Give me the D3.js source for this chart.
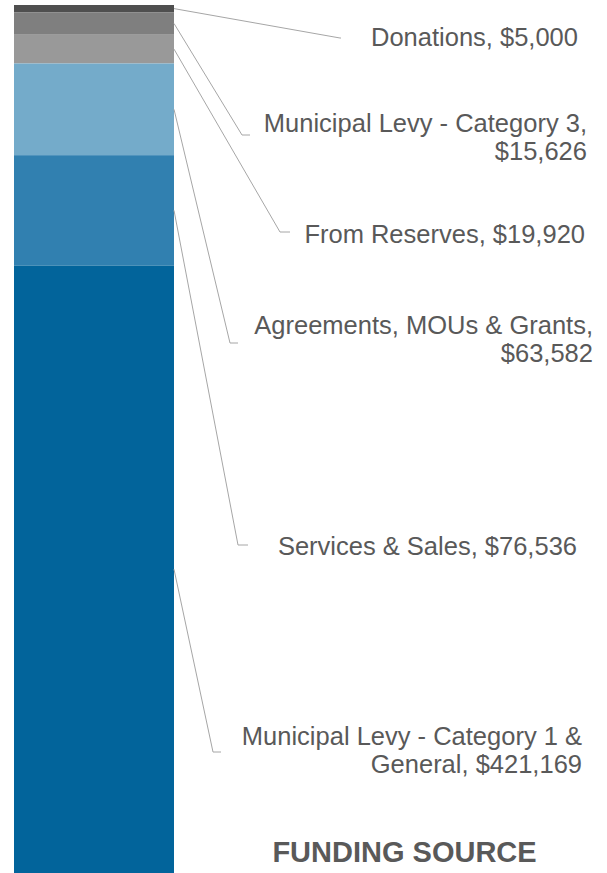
<!DOCTYPE html>
<html>
<head>
<meta charset="utf-8">
<script src="https://cdn.jsdelivr.net/npm/d3@7"></script>
<style>
  html, body { margin: 0; padding: 0; background: #ffffff; }
  svg { display: block; }
</style>
</head>
<body>
<svg id="chart" width="607" height="873"></svg>
<script>
// ---- data (top of stack first) ----
const categories = [
  "Donations",
  "Municipal Levy - Category 3",
  "From Reserves",
  "Agreements, MOUs & Grants",
  "Services & Sales",
  "Municipal Levy - Category 1 & General"
];
const values = [5000, 15626, 19920, 63582, 76536, 421169];
const labelLines = [
  ["Donations, $5,000"],
  ["Municipal Levy - Category 3,", "$15,626"],
  ["From Reserves, $19,920"],
  ["Agreements, MOUs & Grants,", "$63,582"],
  ["Services & Sales, $76,536"],
  ["Municipal Levy - Category 1 &", "General, $421,169"]
];
const title = "FUNDING SOURCE";

// ---- styling / layout (not data) ----
const colors = ["#4f4f4f", "#7f7f7f", "#999999", "#74abca", "#3180b0", "#02649b"];
const labelLayout = [ // elbow x, elbow y, line end x, text right x, first baseline
  {ex: 340, ey: 38,  lx: 341, tx: 578, by: 46},
  {ex: 242, ey: 135, lx: 250, tx: 587, by: 132},
  {ex: 280, ey: 232, lx: 290, tx: 585, by: 243},
  {ex: 230, ey: 343, lx: 238, tx: 593, by: 334},
  {ex: 238, ey: 545, lx: 248, tx: 577, by: 555},
  {ex: 213, ey: 752, lx: 221, tx: 582, by: 745}
];
const lineGap = 27.5;

const svg = d3.select("#chart");
const barLeft = 14, barRight = 174, barTop = 5, barBottom = 873;

const total = d3.sum(values);
const y = d3.scaleLinear().domain([0, total]).range([barTop, barBottom]);

// cumulative offsets from top
let acc = 0;
const segs = values.map((v, i) => {
  const s = {i, v, y0: acc, y1: acc + v};
  acc += v;
  return s;
});

svg.selectAll("rect.seg")
  .data(segs)
  .join("rect")
  .attr("class", "seg")
  .attr("x", barLeft)
  .attr("width", barRight - barLeft)
  .attr("y", d => y(d.y0))
  .attr("height", d => y(d.y1) - y(d.y0))
  .attr("fill", d => colors[d.i]);

// leader lines
svg.selectAll("polyline.leader")
  .data(segs)
  .join("polyline")
  .attr("class", "leader")
  .attr("fill", "none")
  .attr("stroke", "#a6a6a6")
  .attr("stroke-width", 1)
  .attr("points", d => {
    const L = labelLayout[d.i];
    const sy = y((d.y0 + d.y1) / 2);
    return `${barRight},${sy} ${L.ex},${L.ey} ${L.lx},${L.ey}`;
  });

// labels
const lab = svg.selectAll("text.label")
  .data(segs)
  .join("text")
  .attr("class", "label")
  .attr("text-anchor", "end")
  .attr("font-family", "'Liberation Sans', Arial, sans-serif")
  .attr("font-size", 25.5)
  .attr("fill", "#595959");

lab.each(function(d) {
  const L = labelLayout[d.i];
  d3.select(this).selectAll("tspan")
    .data(labelLines[d.i])
    .join("tspan")
    .attr("x", L.tx)
    .attr("y", (t, k) => L.by + k * lineGap)
    .text(t => t);
});

// title
svg.append("text")
  .attr("x", 404.5)
  .attr("y", 862)
  .attr("text-anchor", "middle")
  .attr("font-family", "'Liberation Sans', Arial, sans-serif")
  .attr("font-weight", "bold")
  .attr("font-size", 29)
  .attr("fill", "#595959")
  .text(title);
</script>
</body>
</html>
